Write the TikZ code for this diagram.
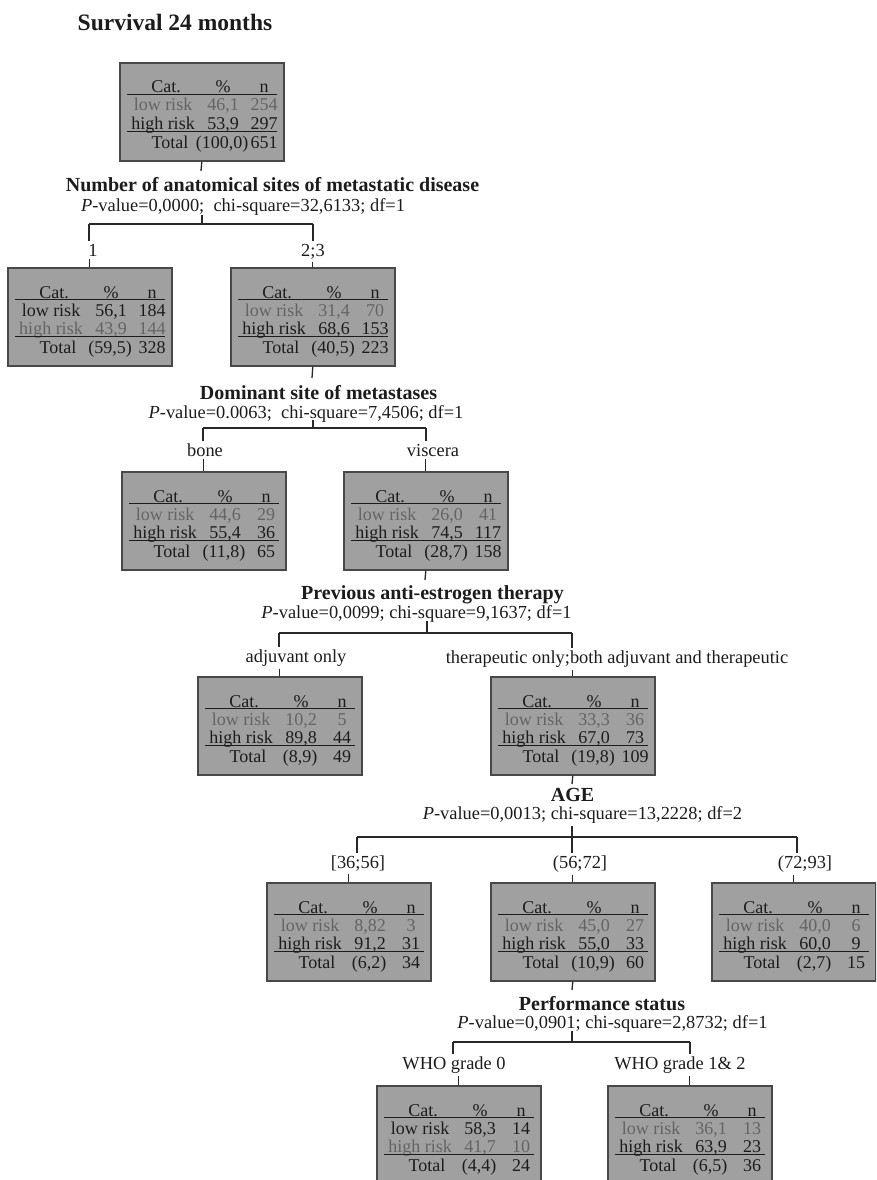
\documentclass[tikz,border=0pt]{standalone}
\usepackage{fontspec}
\setmainfont{Liberation Serif}
\usetikzlibrary{calc}
\definecolor{boxfill}{RGB}{160,160,160}
\definecolor{boxedge}{RGB}{72,72,72}
\definecolor{inkdark}{RGB}{28,28,28}
\definecolor{inklight}{RGB}{100,100,100}
\definecolor{linkc}{RGB}{40,40,40}
\tikzset{
  tbl/.style={draw=boxedge, fill=boxfill, line width=1.6pt, minimum width=164pt, minimum height=98pt, anchor=north west, inner sep=0pt},
  cell/.style={inner sep=0pt, font=\fontsize{18}{18}\selectfont},
  rowdark/.style={cell, text=inkdark},
  rowlight/.style={cell, text=inklight},
  hdr/.style={cell, text=inkdark},
  rulebox/.style={draw=inkdark, line width=1.2pt},
  conn/.style={draw=linkc, line width=1.3pt},
  maintitle/.style={font=\bfseries\fontsize{23.5}{23.5}\selectfont, inner sep=0pt, text=inkdark},
  splitname/.style={font=\bfseries\fontsize{20}{20}\selectfont, inner sep=0pt, text=inkdark},
  stat/.style={font=\fontsize{18.4}{18.4}\selectfont, inner sep=0pt, text=inkdark},
  branch/.style={font=\fontsize{18.4}{18.4}\selectfont, inner sep=2.5pt, text=inkdark},
}
\newcommand\tboxcore[8]{%
  \node[tbl] (#1) at (#2) {};
  \node[hdr,anchor=base] (#1-hc) at ($(#1.north west)+(47,31)$) {Cat.};
  \node[hdr,anchor=base] (#1-hp) at ($(#1.north west)+(104,31)$) {\%};
  \node[hdr,anchor=base] (#1-hn) at ($(#1.north west)+(145,31)$) {n};
  \draw[rulebox] ($(#1.north west)+(8,32.5)$) -- ($(#1.north west)+(158,32.5)$);
  \node[lowrow,anchor=base] (#1-lc) at ($(#1.north west)+(44,49)$) {low risk};
  \node[lowrow,anchor=base] (#1-lp) at ($(#1.north west)+(104,49)$) {#3};
  \node[lowrow,anchor=base] (#1-ln) at ($(#1.north west)+(145,49)$) {#4};
  \node[highrow,anchor=base] (#1-gc) at ($(#1.north west)+(44,67)$) {high risk};
  \node[highrow,anchor=base] (#1-gp) at ($(#1.north west)+(104,67)$) {#5};
  \node[highrow,anchor=base] (#1-gn) at ($(#1.north west)+(145,67)$) {#6};
  \draw[rulebox] ($(#1.north west)+(8,69.5)$) -- ($(#1.north west)+(158,69.5)$);
  \node[hdr,anchor=base] (#1-tc) at ($(#1.north west)+(51,86)$) {Total};
  \node[hdr,anchor=base] (#1-tp) at ($(#1.north west)+(103,86)$) {#7};
  \node[hdr,anchor=base] (#1-tn) at ($(#1.north west)+(145,86)$) {#8};
}
\newcommand\tboxH{\tikzset{lowrow/.style={rowlight},highrow/.style={rowdark}}\tboxcore}
\newcommand\tboxL{\tikzset{lowrow/.style={rowdark},highrow/.style={rowlight}}\tboxcore}
\begin{document}
\begin{tikzpicture}[x=1pt,y=-1pt]
\useasboundingbox (0,0) rectangle (876,1180);
\clip (0,0) rectangle (876,1180);
\fill[white] (0,0) rectangle (876,1180);

\node[maintitle,anchor=base] (ttl) at (175,31) {Survival 24 months};

% boxes
\tboxH{b0}{119,62}{46,1}{254}{53,9}{297}{(100,0)}{651}
\tboxL{b1}{7,267}{56,1}{184}{43,9}{144}{(59,5)}{328}
\tboxH{b2}{230,267}{31,4}{70}{68,6}{153}{(40,5)}{223}
\tboxH{b3}{121,471}{44,6}{29}{55,4}{36}{(11,8)}{65}
\tboxH{b4}{343,471}{26,0}{41}{74,5}{117}{(28,7)}{158}
\tboxH{b5}{197,676}{10,2}{5}{89,8}{44}{(8,9)}{49}
\tboxH{b6}{490,676}{33,3}{36}{67,0}{73}{(19,8)}{109}
\tboxH{b7}{266,882}{8,82}{3}{91,2}{31}{(6,2)}{34}
\tboxH{b8}{490,882}{45,0}{27}{55,0}{33}{(10,9)}{60}
\tboxH{b9}{711,882}{40,0}{6}{60,0}{9}{(2,7)}{15}
\tboxL{b10}{376,1085}{58,3}{14}{41,7}{10}{(4,4)}{24}
\tboxH{b11}{607,1085}{36,1}{13}{63,9}{23}{(6,5)}{36}

% split texts
\node[splitname,anchor=base] (s1) at (272.5,191) {Number of anatomical sites of metastatic disease};
\node[stat,anchor=base] (p1) at (243,211) {\textit{P}-value=0,0000;\ \ chi-square=32,6133; df=1};
\node[splitname,anchor=base] (s2) at (318.5,399) {Dominant site of metastases};
\node[stat,anchor=base] (p2) at (306,418) {\textit{P}-value=0.0063;\ \ chi-square=7,4506; df=1};
\node[splitname,anchor=base] (s3) at (432.5,599) {Previous anti-estrogen therapy};
\node[stat,anchor=base] (p3) at (416.5,618) {\textit{P}-value=0,0099; chi-square=9,1637; df=1};
\node[splitname,anchor=base] (s4) at (572.5,801) {AGE};
\node[stat,anchor=base] (p4) at (582.5,819) {\textit{P}-value=0,0013; chi-square=13,2228; df=2};
\node[splitname,anchor=base] (s5) at (602,1010) {Performance status};
\node[stat,anchor=base] (p5) at (612.5,1028) {\textit{P}-value=0,0901; chi-square=2,8732; df=1};

% branch labels
\node[branch,anchor=base] (l1) at (93,256) {1};
\node[branch,anchor=base] (l2) at (313,256) {2;3};
\node[branch,anchor=base] (l3) at (205,456) {bone};
\node[branch,anchor=base] (l4) at (433,456) {viscera};
\node[branch,anchor=base] (l5) at (296,662) {adjuvant only};
\node[branch,anchor=base] (l6) at (617,663) {therapeutic only;both adjuvant and therapeutic};
\node[branch,anchor=base] (l7) at (358,868) {[36;56]};
\node[branch,anchor=base] (l8) at (580,868) {(56;72]};
\node[branch,anchor=base] (l9) at (805,868) {(72;93]};
\node[branch,anchor=base] (l10) at (454,1069) {WHO grade 0};
\node[branch,anchor=base] (l11) at (680,1069) {WHO grade 1\& 2};

% coordinates of the brackets
\coordinate (a1) at (201,171);  \coordinate (k1) at (202,215);  \coordinate (m1) at (202,224);
\coordinate (c1) at (89,224);   \coordinate (c2) at (313,224);
\coordinate (a2) at (312,378);  \coordinate (k2) at (313,420);  \coordinate (m2) at (313,428);
\coordinate (c3) at (203,428);  \coordinate (c4) at (426,428);
\coordinate (a3) at (425,580);  \coordinate (k3) at (427,621);  \coordinate (m3) at (427,633);
\coordinate (c5) at (279,633);  \coordinate (c6) at (572,633);
\coordinate (a4) at (572,784);  \coordinate (k4) at (572,826);  \coordinate (m4) at (572,837);
\coordinate (c7) at (357,837);  \coordinate (c8) at (572,837);  \coordinate (c9) at (797,837);
\coordinate (a5) at (572,990);  \coordinate (k5) at (572,1031); \coordinate (m5) at (572,1042);
\coordinate (c10) at (453,1042); \coordinate (c11) at (690,1042);

% split 1
\draw[conn] (b0.south) -- (a1);
\draw[conn] (k1) -- (m1);
\draw[conn] (c1) -- (c2);
\draw[conn] (c1) -- (c1 |- l1.north);
\draw[conn] (c2) -- (c2 |- l2.north);
\draw[conn] (b1.north |- l1.south) -- (b1.north);
\draw[conn] (b2.north |- l2.south) -- (b2.north);
% split 2
\draw[conn] (b2.south) -- (a2);
\draw[conn] (k2) -- (m2);
\draw[conn] (c3) -- (c4);
\draw[conn] (c3) -- (c3 |- l3.north);
\draw[conn] (c4) -- (c4 |- l4.north);
\draw[conn] (b3.north |- l3.south) -- (b3.north);
\draw[conn] (b4.north |- l4.south) -- (b4.north);
% split 3
\draw[conn] (b4.south) -- (a3);
\draw[conn] (k3) -- (m3);
\draw[conn] (c5) -- (c6);
\draw[conn] (c5) -- (c5 |- l5.north);
\draw[conn] (c6) -- (c6 |- l6.north);
\draw[conn] (b5.north |- l5.south) -- (b5.north);
\draw[conn] (b6.north |- l6.south) -- (b6.north);
% split 4
\draw[conn] (b6.south) -- (a4);
\draw[conn] (k4) -- (m4);
\draw[conn] (c7) -- (c9);
\draw[conn] (c7) -- (c7 |- l7.north);
\draw[conn] (c8) -- (c8 |- l8.north);
\draw[conn] (c9) -- (c9 |- l9.north);
\draw[conn] (b7.north |- l7.south) -- (b7.north);
\draw[conn] (b8.north |- l8.south) -- (b8.north);
\draw[conn] (b9.north |- l9.south) -- (b9.north);
% split 5
\draw[conn] (b8.south) -- (a5);
\draw[conn] (k5) -- (m5);
\draw[conn] (c10) -- (c11);
\draw[conn] (c10) -- (c10 |- l10.north);
\draw[conn] (c11) -- (c11 |- l11.north);
\draw[conn] (b10.north |- l10.south) -- (b10.north);
\draw[conn] (b11.north |- l11.south) -- (b11.north);
\end{tikzpicture}
\end{document}
